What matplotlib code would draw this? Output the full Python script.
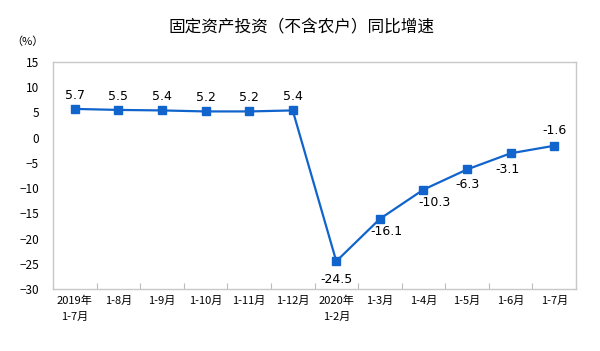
import matplotlib.pyplot as plt

plt.rcParams['font.family'] = ['Noto Sans CJK SC', 'DejaVu Sans']

# data
months = ['2019年\n1-7月', '1-8月', '1-9月', '1-10月', '1-11月', '1-12月',
          '2020年\n1-2月', '1-3月', '1-4月', '1-5月', '1-6月', '1-7月']
growth = [5.7, 5.5, 5.4, 5.2, 5.2, 5.4, -24.5, -16.1, -10.3, -6.3, -3.1, -1.6]
# label offsets in points (dx, dy)
label_offsets = [(0, 10), (0, 10), (0, 10), (0, 10), (0, 10), (0, 10),
                 (0, -13), (5, -9), (8, -9), (0, -11), (-2, -12), (0, 11)]

color = '#1064CC'

fig = plt.figure(figsize=(6, 3.51), dpi=100)
ax = fig.add_axes([53 / 600, 1 - 289 / 351, 523 / 600, 227 / 351])

x = [i + 0.5 for i in range(len(growth))]
ax.plot(x, growth, color=color, lw=1.6, marker='s', ms=6)

for xi, v, (dx, dy) in zip(x, growth, label_offsets):
    ax.annotate(f'{v:.1f}', (xi, v), xytext=(dx, dy), textcoords='offset points',
                ha='center', va='center', fontsize=9, family='DejaVu Sans')

ax.set_xlim(0, len(growth))
ax.set_ylim(-30, 15)
ax.set_yticks(range(-30, 16, 5))
ax.set_xticks(range(len(growth) + 1))
ax.set_xticklabels([])
ax.set_xticks(x, minor=True)
ax.set_xticklabels(months, minor=True, fontsize=8, linespacing=1.7)
ax.tick_params(axis='x', which='major', direction='in', length=4, color='#bbbbbb')
ax.tick_params(axis='x', which='minor', length=0, pad=5)
ax.tick_params(axis='y', length=0, labelsize=8.5, pad=10)
for s in ax.spines.values():
    s.set_color('#c8c8c8')
    s.set_linewidth(1)

fig.text(302 / 600, 1 - 28 / 351, '固定资产投资（不含农户）同比增速',
         ha='center', va='center', fontsize=12)
fig.text(27 / 600, 1 - 42 / 351, '（%）', ha='center', va='center', fontsize=8)

fig.savefig('out.png')
